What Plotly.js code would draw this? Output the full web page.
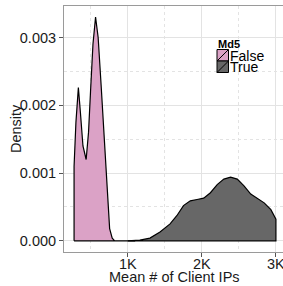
<!DOCTYPE html>
<html>
<head>
<meta charset="utf-8">
<script src="https://cdn.plot.ly/plotly-3.0.1.min.js"></script>
<style>html,body{margin:0;padding:0;overflow:hidden;background:#fff;}</style>
</head>
<body>
<div id="chart"></div>
<script>
// Density curve for Md5 = False
const falseX = [275, 300, 333, 360, 395, 438, 470, 497, 530, 565, 600, 640, 670, 700, 730, 755, 790, 823, 900, 1100];
const falseY = [0.0011, 0.00175, 0.00226, 0.0019, 0.0014, 0.0012, 0.0016, 0.0022, 0.0029, 0.0033, 0.0030, 0.0023, 0.0017, 0.0012, 0.0006, 0.00018, 0.00004, 0.0, 0.0, 0.0];
// Density curve for Md5 = True
const trueX = [1000, 1163, 1299, 1435, 1571, 1662, 1752, 1844, 1935, 2025, 2116, 2207, 2297, 2388, 2478, 2569, 2660, 2751, 2841, 2932, 3000];
const trueY = [0.0, 0.00001, 0.00004, 0.00013, 0.00025, 0.00037, 0.00052, 0.00059, 0.00061, 0.00063, 0.00071, 0.00083, 0.00091, 0.00094, 0.00091, 0.00081, 0.00069, 0.00062, 0.00056, 0.00046, 0.00032];

const groups = ["False", "True"];
const groupColors = ["#dba2c6", "#676767"];
const xTickVals = [1000, 2000, 3000];
const xTickText = ["1K", "2K", "3K"];
const yTickVals = [0, 0.001, 0.002, 0.003];
const yTickText = ["0.000", "0.001", "0.002", "0.003"];
const xTitle = "Mean # of Client IPs";
const yTitle = "Density";
const legendTitle = "Md5";

function polygon(xs, ys) {
  const px = [xs[0]].concat(xs, [xs[xs.length - 1], xs[0]]);
  const py = [0].concat(ys, [0, 0]);
  return {px, py};
}

const font = "Liberation Sans, Arial, sans-serif";
const data = [[falseX, falseY], [trueX, trueY]].map((d, i) => {
  const p = polygon(d[0], d[1]);
  return {
    x: p.px, y: p.py, type: "scatter", mode: "lines",
    fill: "toself", fillcolor: groupColors[i],
    line: {color: "#000", width: 1.2},
    name: groups[i], showlegend: false, hoverinfo: "skip"
  };
});

const lx0 = 217, ly0 = 49.5, sw = 11.5;

const layout = {
  width: 286, height: 286,
  margin: {l: 64, r: 0, t: 6, b: 34},
  paper_bgcolor: "#fff", plot_bgcolor: "#fff",
  font: {family: font, size: 14.5, color: "#1a1a1a"},
  xaxis: {
    range: [139, 3136], tickmode: "array", tickvals: xTickVals, ticktext: xTickText,
    showgrid: true, gridcolor: "#e3e3e3", gridwidth: 1,
    minor: {tickmode: "array", tickvals: [500, 1500, 2500], showgrid: true, gridcolor: "#e3e3e3", griddash: "dot", ticklen: 0},
    showline: true, linecolor: "#9a9a9a", linewidth: 1, mirror: true,
    ticks: "outside", ticklen: 4, tickcolor: "#555", zeroline: false,
    ticklabelstandoff: -5,
    tickfont: {size: 14.5, color: "#1a1a1a"}
  },
  yaxis: {
    range: [-0.000165, 0.003465], tickmode: "array", tickvals: yTickVals, ticktext: yTickText,
    showgrid: true, gridcolor: "#e3e3e3", gridwidth: 1,
    minor: {tickmode: "array", tickvals: [0.0005, 0.0015, 0.0025], showgrid: true, gridcolor: "#e3e3e3", griddash: "dot", ticklen: 0},
    showline: true, linecolor: "#9a9a9a", linewidth: 1, mirror: true,
    ticks: "outside", ticklen: 4, tickcolor: "#555", zeroline: false,
    tickfont: {size: 14.5, color: "#1a1a1a"}
  },
  showlegend: false,
  shapes: [], annotations: []
};

Plotly.newPlot("chart", data, layout, {staticPlot: true}).then(gd => {
  const fl = gd._fullLayout;
  const W = fl._size.w, H = fl._size.h, L = fl._size.l, T = fl._size.t;
  const px = x => (x - L) / W;
  const py = y => 1 - (y - T) / H;
  const sh = [], an = [];
  an.push({text: xTitle, showarrow: false, xref: "paper", yref: "paper",
    x: px(174.5), y: py(277), xanchor: "center", yanchor: "middle",
    font: {family: font, size: 14.5, color: "#1a1a1a"}});
  an.push({text: yTitle, showarrow: false, xref: "paper", yref: "paper", textangle: -90,
    x: px(16), y: py(129), xanchor: "center", yanchor: "middle",
    font: {family: font, size: 14.5, color: "#1a1a1a"}});
  an.push({text: "<b>" + legendTitle + "</b>", showarrow: false, xref: "paper", yref: "paper",
    x: px(216), y: py(43.5), xanchor: "left", yanchor: "middle",
    font: {family: font, size: 11, color: "#000"}});
  groups.forEach((g, i) => {
    const y0 = ly0 + i * sw;
    sh.push({type: "rect", xref: "paper", yref: "paper",
      x0: px(lx0), x1: px(lx0 + sw), y0: py(y0), y1: py(y0 + sw),
      fillcolor: groupColors[i], line: {color: "#000", width: 1}});
    sh.push({type: "line", xref: "paper", yref: "paper",
      x0: px(lx0), x1: px(lx0 + sw), y0: py(y0 + sw), y1: py(y0),
      line: {color: "#000", width: 1}});
    an.push({text: g, showarrow: false, xref: "paper", yref: "paper",
      x: px(lx0 + sw - 0.5), y: py(y0 + sw / 2 + 0.5), xanchor: "left", yanchor: "middle",
      font: {family: font, size: 14, color: "#000"}});
  });
  return Plotly.relayout(gd, {shapes: sh, annotations: an});
});
</script>
</body>
</html>
